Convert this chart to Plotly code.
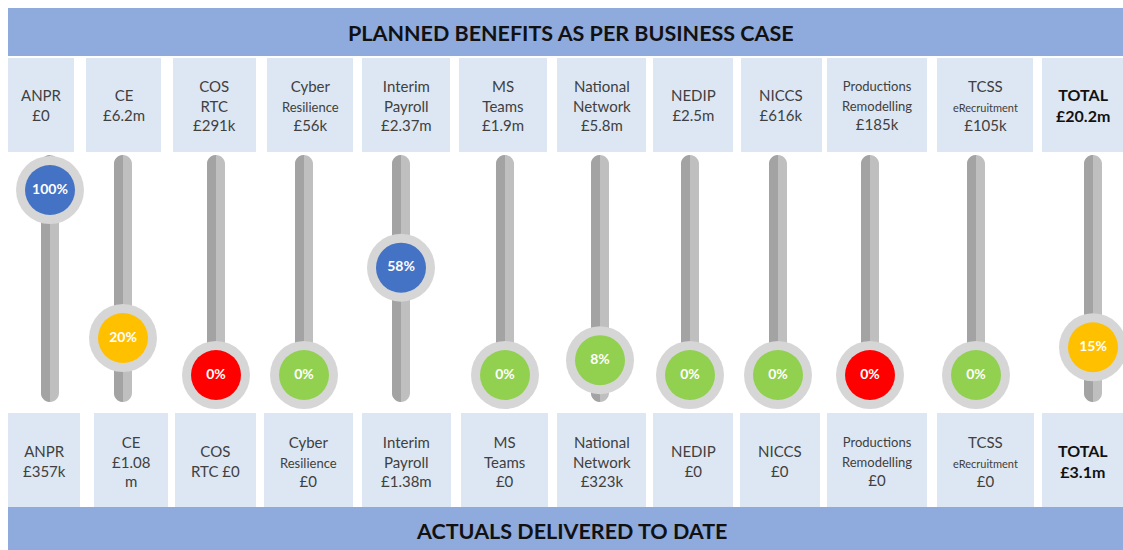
import plotly.graph_objects as go

# benefits per project
names = ["ANPR", "CE", "COS RTC", "Cyber Resilience", "Interim Payroll", "MS Teams",
         "National Network", "NEDIP", "NICCS", "Productions Remodelling",
         "TCSS eRecruitment", "TOTAL"]
planned = ["£0", "£6.2m", "£291k", "£56k", "£2.37m", "£1.9m", "£5.8m", "£2.5m",
           "£616k", "£185k", "£105k", "£20.2m"]
actual = ["£357k", "£1.08m", "£0", "£0", "£1.38m", "£0", "£323k", "£0", "£0", "£0",
          "£0", "£3.1m"]
pct_delivered = [100, 20, 0, 0, 58, 0, 8, 0, 0, 0, 0, 15]
status = ["blue", "amber", "red", "green", "blue", "green", "green", "green", "green",
          "red", "green", "amber"]

title_top = "PLANNED BENEFITS AS PER BUSINESS CASE"
title_bottom = "ACTUALS DELIVERED TO DATE"

# layout, in page pixels
W, H = 1123, 550
slider_x = [50, 123, 216, 304, 401, 505, 600, 690, 778, 870, 976, 1093]
top_boxes = [(8, 74), (86, 161), (173, 256), (267, 353), (362, 450), (459, 547),
             (557, 646), (653, 733), (741, 822), (827, 927), (937, 1033), (1042, 1123)]
bot_boxes = [(8, 80), (94, 168), (175, 256), (264, 353), (362, 451), (461, 548),
             (557, 646), (653, 733), (740, 820), (827, 927), (937, 1034), (1042, 1123)]
colors = {"blue": "#4472C4", "amber": "#FFC000", "red": "#FF0000", "green": "#92D050"}
BANNER = "#8FAADC"
BOX = "#DDE7F3"
FONT = "Lato"
small = {"Resilience": 13, "Productions": 13, "Remodelling": 13, "eRecruitment": 11}


def px(x):
    return x / W


def py(y):
    return 1 - y / H


def name_lines(name):
    out = []
    for w in name.split(" "):
        if w in small:
            out.append("<span style='font-size:%dpx'>%s</span>" % (small[w], w))
        else:
            out.append(w)
    return out


def box_text(i, value, row):
    name = names[i]
    if name == "TOTAL":
        return "<b>TOTAL<br>%s</b>" % value
    if row == "bottom" and name == "COS RTC":
        return "COS<br>RTC " + value
    if row == "bottom" and name == "CE":
        return "CE<br>" + value[:-1] + "<br>" + value[-1]
    return "<br>".join(name_lines(name) + [value])


def track(cx, top, bot, r, left_only=False):
    k = 0.552 * r
    pts = lambda x, y: "%.5f,%.5f" % (px(x), py(y))
    if left_only:
        return ("M %s C %s %s %s L %s C %s %s %s Z" %
                (pts(cx, top), pts(cx - k, top), pts(cx - r, top + r - k), pts(cx - r, top + r),
                 pts(cx - r, bot - r), pts(cx - r, bot - r + k), pts(cx - k, bot), pts(cx, bot)))
    return ("M %s C %s %s %s C %s %s %s L %s C %s %s %s C %s %s %s Z" %
            (pts(cx - r, top + r), pts(cx - r, top + r - k), pts(cx - k, top), pts(cx, top),
             pts(cx + k, top), pts(cx + r, top + r - k), pts(cx + r, top + r),
             pts(cx + r, bot - r), pts(cx + r, bot - r + k), pts(cx + k, bot), pts(cx, bot),
             pts(cx - k, bot), pts(cx - r, bot - r + k), pts(cx - r, bot - r)))


def rect(x0, x1, y0, y1, color):
    return dict(type="rect", xref="paper", yref="paper", x0=px(x0), x1=px(x1),
                y0=py(y1), y1=py(y0), fillcolor=color, line_width=0, layer="below")


def label(x, y, text, size, color):
    return dict(xref="paper", yref="paper", x=px(x), y=py(y), text=text, showarrow=False,
                align="center", xanchor="center", yanchor="middle",
                font=dict(family=FONT, size=size, color=color))


shapes = []
annotations = []

# banners
shapes.append(rect(8, W, 8, 56, BANNER))
shapes.append(rect(8, W, 507, H, BANNER))
annotations.append(label(571, 33, "<b>%s</b>" % title_top, 21.5, "#111111"))
annotations.append(label(571, 531, "<b>%s</b>" % title_bottom, 21.5, "#111111"))

for i in range(len(names)):
    total = names[i] == "TOTAL"
    size = 16 if total else 15
    tcol = "#111111" if total else "#404040"
    x0, x1 = top_boxes[i]
    shapes.append(rect(x0, x1, 58, 152, BOX))
    annotations.append(label((x0 + x1) / 2, 105, box_text(i, planned[i], "top"), size, tcol))
    x0, x1 = bot_boxes[i]
    shapes.append(rect(x0, x1, 413, 507, BOX))
    annotations.append(label((x0 + x1) / 2, 461, box_text(i, actual[i], "bottom"), size, tcol))
    # slider track
    cx = slider_x[i]
    shapes.append(dict(type="path", xref="paper", yref="paper", path=track(cx, 155, 402, 9),
                       fillcolor="#BFBFBF", line_width=0, layer="below"))
    shapes.append(dict(type="path", xref="paper", yref="paper",
                       path=track(cx, 155, 402, 9, left_only=True),
                       fillcolor="#A3A3A3", line_width=0, layer="below"))

fig = go.Figure()
fig.add_trace(go.Scatter(x=slider_x, y=pct_delivered, mode="markers",
                         marker=dict(size=68, color="#D6D6D6", line_width=0),
                         cliponaxis=False, hoverinfo="skip", showlegend=False))
fig.add_trace(go.Scatter(x=slider_x, y=pct_delivered, mode="markers+text",
                         marker=dict(size=50, color=[colors[s] for s in status], line_width=0),
                         text=["<b>%d%%</b>" % p for p in pct_delivered],
                         textposition="middle center",
                         textfont=dict(family=FONT, size=14, color="white"),
                         cliponaxis=False, hoverinfo="skip", showlegend=False))

# percentage scale: 100% sits near the top of the tracks, 0% near the bottom
fig.update_layout(
    width=W, height=H,
    margin=dict(l=0, r=0, t=0, b=0),
    paper_bgcolor="white", plot_bgcolor="white",
    xaxis=dict(range=[0, W], visible=False, fixedrange=True),
    yaxis=dict(range=[0, 100], domain=[py(375), py(190)], visible=False, fixedrange=True),
    shapes=shapes,
    annotations=annotations,
)

# drop the default page margin so the 1123x550 figure fills the window
fig.write_html("out.html", config={"displayModeBar": False},
               post_script="document.body.style.margin='0';document.body.style.overflow='hidden';")
